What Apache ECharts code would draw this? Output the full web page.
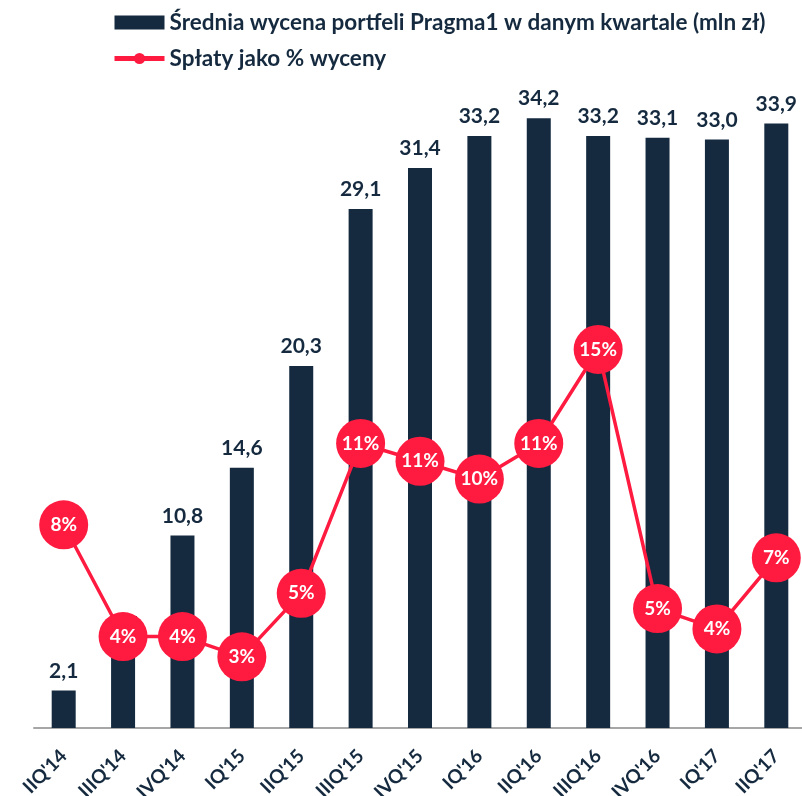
<!DOCTYPE html>
<html>
<head>
<meta charset="utf-8">
<script src="https://cdn.jsdelivr.net/npm/echarts@6/dist/echarts.min.js"></script>
<style>
  html, body { margin: 0; padding: 0; background: #fff; }
  #main { width: 802px; height: 796px; }
</style>
</head>
<body>
<div id="main"></div>
<script>
// kwartały
var categories = ["IIQ'14", "IIIQ'14", "IVQ'14", "IQ'15", "IIQ'15", "IIIQ'15", "IVQ'15",
                  "IQ'16", "IIQ'16", "IIIQ'16", "IVQ'16", "IQ'17", "IIQ'17"];
// średnia wycena portfeli (mln zł)
var wycena = [2.1, 4.7, 10.8, 14.6, 20.3, 29.1, 31.4, 33.2, 34.2, 33.2, 33.1, 33.0, 33.9];
// spłaty jako % wyceny (etykiety zaokrąglone)
var splaty = [8.0, 3.6, 3.6, 2.8, 5.3, 11.2, 10.5, 9.8, 11.2, 14.9, 4.7, 3.9, 6.7];

var navy = '#152a3f';
var red = '#ff1a40';
var font = 'Lato';

var myChart = echarts.init(document.getElementById('main'));
myChart.setOption({
  animation: false,
  textStyle: { fontFamily: font },
  legend: {
    orient: 'vertical',
    left: 107,
    top: 6,
    itemWidth: 50,
    itemHeight: 14,
    itemGap: 13,
    textStyle: { color: navy, fontSize: 22.5, fontWeight: 'bold', fontFamily: font },
    data: [
      { name: 'Średnia wycena portfeli Pragma1 w danym kwartale (mln zł)', icon: 'rect' },
      { name: 'Spłaty jako % wyceny', itemStyle: { color: red }, lineStyle: { width: 5, color: red } }
    ]
  },
  grid: { left: 34, right: -4, top: 100, bottom: 68, outerBoundsMode: 'none' },
  xAxis: {
    type: 'category',
    data: categories,
    axisLine: { lineStyle: { color: '#a6a6a6', width: 2 } },
    axisTick: { show: false },
    axisLabel: {
      rotate: 45,
      margin: 25,
      color: navy,
      fontSize: 19,
      fontWeight: 'bold',
      fontFamily: font
    }
  },
  yAxis: [
    { type: 'value', min: 0, max: 35.22, show: false, splitLine: { show: false } },
    { type: 'value', min: 0, max: 24.72, show: false, splitLine: { show: false } }
  ],
  series: [
    {
      name: 'Średnia wycena portfeli Pragma1 w danym kwartale (mln zł)',
      type: 'bar',
      data: wycena,
      barWidth: 24,
      itemStyle: { color: navy },
      label: {
        show: true,
        position: 'top',
        distance: 9,
        color: navy,
        fontSize: 21,
        fontWeight: 'bold',
        fontFamily: font,
        formatter: function (p) { return p.value.toFixed(1).replace('.', ','); }
      }
    },
    {
      name: 'Spłaty jako % wyceny',
      type: 'line',
      yAxisIndex: 1,
      data: splaty,
      symbol: 'circle',
      symbolSize: 49,
      lineStyle: { color: red, width: 3.5 },
      itemStyle: { color: red },
      label: {
        show: true,
        position: 'inside',
        color: '#fff',
        fontSize: 19,
        fontWeight: 'bold',
        fontFamily: font,
        formatter: function (p) { return Math.round(p.value) + '%'; }
      }
    }
  ]
});
</script>
</body>
</html>
